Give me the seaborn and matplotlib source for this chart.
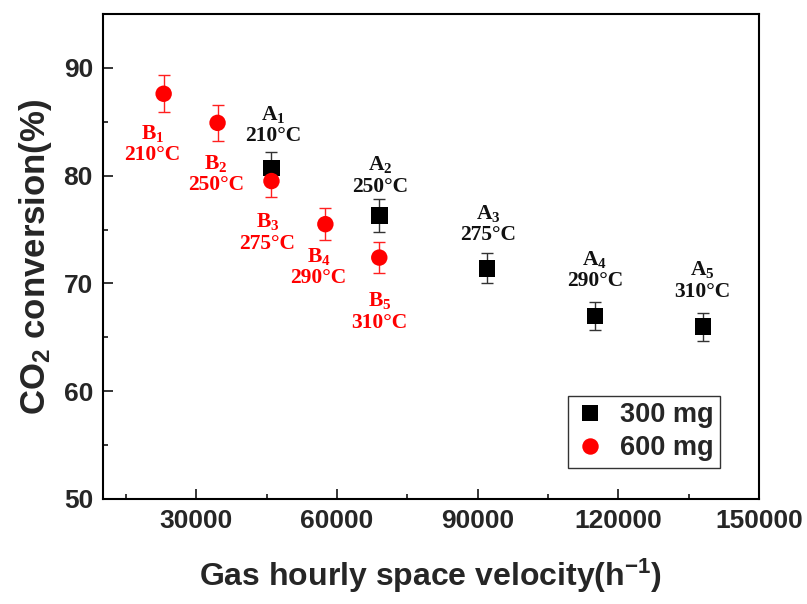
import matplotlib
matplotlib.use("Agg")
import matplotlib.pyplot as plt
import seaborn as sns
import pandas as pd

# Gas hourly space velocity (h^-1) and CO2 conversion (%) for the two catalyst loadings
ghsv_300 = [46000, 69000, 92000, 115000, 138000]
conv_300 = [80.7, 76.3, 71.4, 67.0, 66.0]
err_300 = [1.5, 1.5, 1.4, 1.3, 1.3]
names_300 = ["A$_1$", "A$_2$", "A$_3$", "A$_4$", "A$_5$"]

ghsv_600 = [23000, 34500, 46000, 57500, 69000]
conv_600 = [87.6, 84.9, 79.5, 75.5, 72.4]
err_600 = [1.7, 1.7, 1.5, 1.5, 1.4]
names_600 = ["B$_1$", "B$_2$", "B$_3$", "B$_4$", "B$_5$"]

temps = ["210°C", "250°C", "275°C", "290°C", "310°C"]
groups = ["300 mg", "600 mg"]

x_ticks = [30000, 60000, 90000, 120000, 150000]
y_ticks = [50, 60, 70, 80, 90]

# label placement (offset of label centre from the marker, in points)
off_300 = [(1, 31), (1, 29), (1, 32), (0, 33), (0, 33)]
off_600 = [(-8, -36), (-1, -37), (-3, -37), (-5, -31), (0, -39)]

df = pd.DataFrame({
    "ghsv": ghsv_300 + ghsv_600,
    "conv": conv_300 + conv_600,
    "err": err_300 + err_600,
    "group": [groups[0]] * len(ghsv_300) + [groups[1]] * len(ghsv_600),
})

sns.set_style("ticks")
plt.rcParams["font.family"] = ["Liberation Sans", "DejaVu Sans"]
plt.rcParams["font.weight"] = "bold"
plt.rcParams["mathtext.default"] = "regular"

fig = plt.figure(figsize=(8.07, 6.04), dpi=100)
ax = fig.add_axes([102.7 / 807, 1 - 499 / 604, (759 - 102.7) / 807, (499 - 14) / 604])

colors = {"300 mg": "black", "600 mg": "#ff0000"}

# error bars beneath the markers
for g in groups:
    sub = df[df["group"] == g]
    ax.errorbar(sub["ghsv"], sub["conv"], yerr=sub["err"], fmt="none",
                ecolor="#333333" if g == "300 mg" else "#ff2020",
                elinewidth=1.0, capsize=4.5, capthick=1.0, zorder=2)

sns.scatterplot(data=df, x="ghsv", y="conv", hue="group", style="group",
                hue_order=groups, style_order=groups, palette=colors,
                markers={"300 mg": "s", "600 mg": "o"},
                s=140, linewidth=0, ax=ax, zorder=3)

serif = ["Liberation Serif", "DejaVu Serif"]
for x, y, e, n, t, (dx, dy) in zip(ghsv_300, conv_300, err_300, names_300, temps, off_300):
    ax.annotate(f"{n}\n{t}", (x, y), xytext=(dx, dy), textcoords="offset points",
                ha="center", va="center", multialignment="center",
                fontsize=15.5, fontweight="bold", family=serif,
                color="#111111", linespacing=1.1, zorder=4)
for x, y, e, n, t, (dx, dy) in zip(ghsv_600, conv_600, err_600, names_600, temps, off_600):
    ax.annotate(f"{n}\n{t}", (x, y), xytext=(dx, dy), textcoords="offset points",
                ha="center", va="center", multialignment="center",
                fontsize=15.5, fontweight="bold", family=serif,
                color="#ff0000", linespacing=1.1, zorder=4)

ax.set_xlim(10000, 150000)
ax.set_ylim(50, 95)
ax.set_xticks(x_ticks)
ax.set_xticklabels([str(v) for v in x_ticks])
ax.set_xticks([15000, 45000, 75000, 105000, 135000], minor=True)
ax.set_yticks(y_ticks)
ax.set_yticklabels([str(v) for v in y_ticks])
ax.set_yticks([55, 65, 75, 85], minor=True)

ax.tick_params(which="major", direction="in", length=7, width=1.3,
               labelsize=19, pad=7, top=False, right=False)
ax.tick_params(which="minor", direction="in", length=3.5, width=1.3,
               top=False, right=False)
for lab in ax.get_xticklabels() + ax.get_yticklabels():
    lab.set_fontweight("bold")
for sp in ax.spines.values():
    sp.set_linewidth(1.5)
    sp.set_color("black")

ax.set_xlabel("Gas hourly space velocity(h$^{-1}$)", fontsize=23, fontweight="bold", labelpad=17)
ax.set_ylabel("CO$_2$ conversion(%)", fontsize=25, fontweight="bold", labelpad=7)

leg = ax.legend(loc="lower right", bbox_to_anchor=(0.9406, 0.064), borderaxespad=0,
                frameon=True, fancybox=False, fontsize=19.5, handletextpad=0.55,
                borderpad=0.25, labelspacing=0.25, handlelength=1.1, markerscale=1.0)
leg.get_frame().set_edgecolor("black")
leg.get_frame().set_linewidth(1.0)
for txt in leg.get_texts():
    txt.set_fontweight("bold")

fig.savefig("out.png", dpi=100)
